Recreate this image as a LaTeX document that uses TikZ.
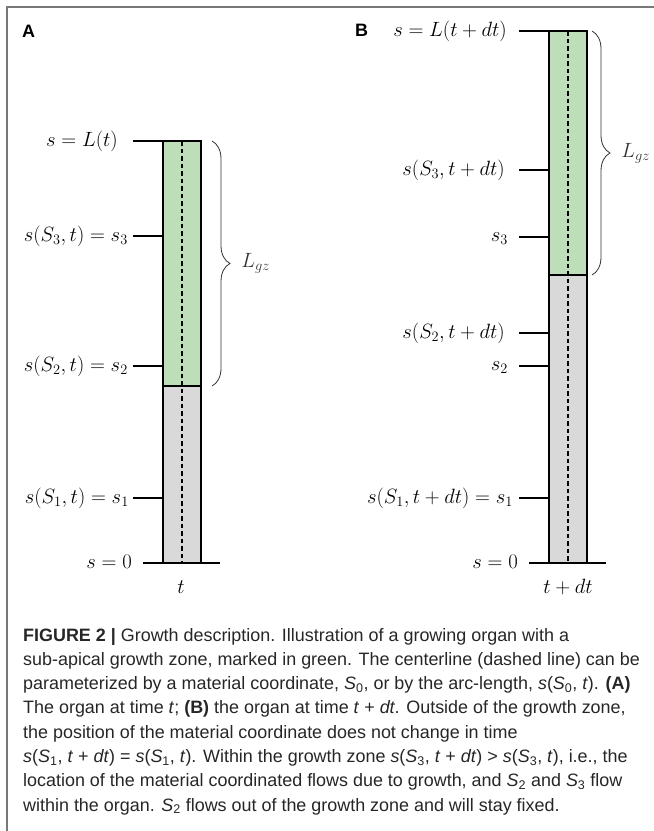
\documentclass[tikz,border=0pt]{standalone}
\usepackage{fontspec}
\newfontfamily\capfont{Liberation Sans}
\usetikzlibrary{decorations.pathreplacing}
\definecolor{gzgreen}{RGB}{190,222,186}
\definecolor{organgrey}{RGB}{217,217,217}
\definecolor{framegrey}{RGB}{120,120,120}
\newcommand\matS[1]{\textit{S}\textsubscript{#1}}
\tikzset{
  organ/.style={line width=2.4bp},
  tick/.style={line width=1.4bp},
  centre/.style={line width=1.1bp,dash pattern=on 4.5bp off 3bp},
  lbl/.style={inner sep=0pt,anchor=base east,font=\fontsize{20.74}{24}\selectfont},
  gzbrace/.style={decorate,decoration={brace,amplitude=18bp},line width=0.8bp,black!80},
  panel/.style={inner sep=0pt,anchor=base west,font=\capfont\fontsize{18}{20}\selectfont\bfseries},
  capline/.style={inner sep=0pt,anchor=base west,black!85,font=\capfont\fontsize{18}{20}\selectfont},
}

\begin{document}
\begin{tikzpicture}[x=1bp,y=-1bp]
\useasboundingbox (0,0) rectangle (654,831);
\draw[framegrey,line width=1.5bp] (7,831)--(7,7)--(654,7);

% panel A
\node[panel] (pA) at (22,37) {A};
\draw[organ,fill=gzgreen] (163,141) rectangle (201,386);
\draw[organ,fill=organgrey] (163,386) rectangle (201,563);
\draw[centre] (182,141)--(182,563);
\draw[organ] (143,563)--(220,563);
\draw[tick] (133,141)--(163,141);
\draw[tick] (133,236)--(163,236);
\draw[tick] (133,366)--(163,366);
\draw[tick] (133,498)--(163,498);
\node[lbl] (aL) at (118,146.5) {$s=L(t)$};
\node[lbl] (a3) at (128,241) {$s(S_3,t)=s_3$};
\node[lbl] (a2) at (128,371) {$s(S_2,t)=s_2$};
\node[lbl] (a1) at (129,503) {$s(S_1,t)=s_1$};
\node[lbl] (a0) at (132,568) {$s=0$};
\node[lbl,anchor=base] (at) at (181,593) {$t$};
\draw[gzbrace] (212,141)--node[right=29bp,inner sep=0pt,font=\fontsize{20.74}{24}\selectfont] (aG) {$L_{gz}$} (212,386);

% panel B
\node[panel] (pB) at (355,36) {B};
\draw[organ,fill=gzgreen] (549,31) rectangle (587,275);
\draw[organ,fill=organgrey] (549,275) rectangle (587,563);
\draw[centre] (568,31)--(568,563);
\draw[organ] (529,563)--(606,563);
\draw[tick] (519,31)--(549,31);
\draw[tick] (519,170)--(549,170);
\draw[tick] (519,237)--(549,237);
\draw[tick] (519,333)--(549,333);
\draw[tick] (519,366)--(549,366);
\draw[tick] (519,498)--(549,498);
\node[lbl] (bL) at (507,36.5) {$s=L(t+dt)$};
\node[lbl] (b3t) at (505,175.5) {$s(S_3,t+dt)$};
\node[lbl] (b3) at (508,241) {$s_3$};
\node[lbl] (b2t) at (505,338.5) {$s(S_2,t+dt)$};
\node[lbl] (b2) at (508,370) {$s_2$};
\node[lbl] (b1) at (513,503) {$s(S_1,t+dt)=s_1$};
\node[lbl] (b0) at (518,568) {$s=0$};
\node[lbl,anchor=base] (bt) at (568,593) {$t+dt$};
\draw[gzbrace] (592,31)--node[right=29bp,inner sep=0pt,font=\fontsize{20.74}{24}\selectfont] (bG) {$L_{gz}$} (592,275);

% caption
\node[capline] (c1) at (23,641) {\textbf{FIGURE 2 |} Growth description. Illustration of a growing organ with a};
\node[capline] (c2) at (23,665.3) {sub-apical growth zone, marked in green. The centerline (dashed line) can be};
\node[capline] (c3) at (23,689.6) {parameterized by a material coordinate, \matS{0}, or by the arc-length, \textit{s}(\matS{0}, \textit{t}). \textbf{(A)}};
\node[capline] (c4) at (23,713.9) {The organ at time \textit{t}; \textbf{(B)} the organ at time \textit{t} + \textit{dt}. Outside of the growth zone,};
\node[capline] (c5) at (23,738.2) {the position of the material coordinate does not change in time};
\node[capline] (c6) at (23,762.5) {\textit{s}(\matS{1}, \textit{t} + \textit{dt}) = \textit{s}(\matS{1}, \textit{t}). Within the growth zone \textit{s}(\matS{3}, \textit{t} + \textit{dt}) > \textit{s}(\matS{3}, \textit{t}), i.e., the};
\node[capline] (c7) at (23,786.8) {location of the material coordinated flows due to growth, and \matS{2} and \matS{3} flow};
\node[capline] (c8) at (23,811.1) {within the organ. \matS{2} flows out of the growth zone and will stay fixed.};
\end{tikzpicture}
\end{document}
